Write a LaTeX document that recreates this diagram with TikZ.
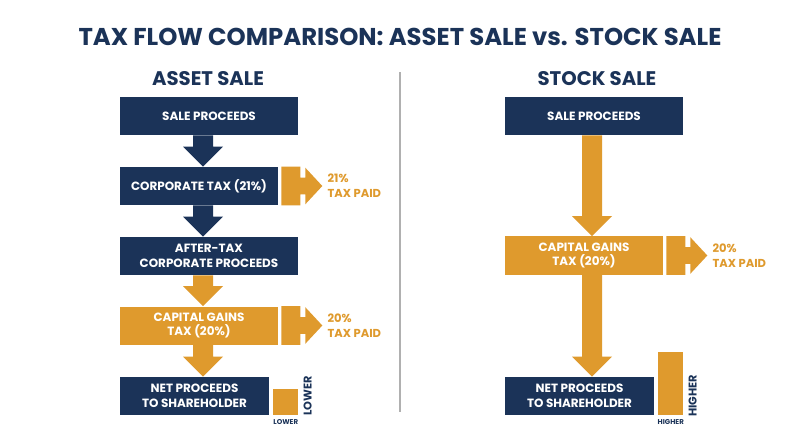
\documentclass[tikz,border=0pt]{standalone}
\usepackage{fontspec}
\setmainfont{Poppins}
\usetikzlibrary{calc}

\definecolor{navy}{HTML}{1B3358}
\definecolor{gold}{HTML}{DF9A2D}
\definecolor{divgray}{HTML}{B0B0B0}

% block arrow pointing down, from one box to the next, on a given axis
\newcommand{\flowdown}[4]{%
  \fill[#1] ($(#3.south -| #2)+(-10,0)$) -- ($(#4.north -| #2)+(-10,-20)$)
    -- ($(#4.north -| #2)+(-20,-20)$) -- (#4.north -| #2)
    -- ($(#4.north -| #2)+(20,-20)$) -- ($(#4.north -| #2)+(10,-20)$)
    -- ($(#3.south -| #2)+(10,0)$) -- cycle;}

% notched tax arrow leaving a box to the right
\newcommand{\taxout}[1]{%
  \fill[gold] ($(#1.north east)+(3,0)$) -- ($(#1.north east)+(22,0)$)
    -- ($(#1.north east)+(22,11)$) -- ($(#1.north east)+(27,11)$)
    -- ($(#1.north east)+(27,1)$) -- ($(#1.east)+(44,0)$)
    -- ($(#1.south east)+(27,-1)$) -- ($(#1.south east)+(27,-11)$)
    -- ($(#1.south east)+(22,-11)$) -- ($(#1.south east)+(22,0)$)
    -- ($(#1.south east)+(3,0)$) -- cycle;}

\begin{document}
\begin{tikzpicture}[
    x=0.025cm, y=-0.025cm,
    navybox/.style={rectangle, fill=navy, text=white, inner sep=0pt, align=center,
      minimum height=0.95cm, font=\fontsize{8.5}{10.5}\selectfont\bfseries},
    goldbox/.style={navybox, fill=gold},
    bar/.style={rectangle, fill=gold, inner sep=0pt, minimum width=0.625cm, anchor=south west},
    taxtag/.style={text=gold, align=left, anchor=west, inner sep=0pt,
      font=\fontsize{8.2}{10.5}\selectfont\bfseries},
    sidetag/.style={text=navy, rotate=90, inner sep=0pt, font=\fontsize{8}{9}\selectfont\bfseries},
    undertag/.style={text=navy, inner sep=0pt, font=\fontsize{5}{6}\selectfont\bfseries},
    header/.style={text=navy, font=\fontsize{14}{16}\selectfont\bfseries}
]
    \useasboundingbox[fill=white] (0,0) rectangle (800,447);

    % Titles
    \node[text=navy, font=\fontsize{17.3}{20}\selectfont\bfseries] (title) at (400,37)
      {TAX FLOW COMPARISON: ASSET SALE vs. STOCK SALE};
    \node[header] (assetHead) at (208,79) {ASSET SALE};
    \node[header] (stockHead) at (597,79) {STOCK SALE};

    % Divider
    \coordinate (divTop) at (400,72);
    \coordinate (divBot) at (400,412);
    \draw[divgray, line width=0.8pt] (divTop) -- (divBot);

    % Asset sale column
    \node[navybox, minimum width=4.45cm] (aSale) at (209,116) {SALE PROCEEDS};
    \node[navybox, minimum width=3.95cm] (aCorp) at (199,186) {CORPORATE TAX (21\%)};
    \node[navybox, minimum width=4.45cm] (aAfter) at (209,256) {AFTER-TAX\\CORPORATE PROCEEDS};
    \node[goldbox, minimum width=3.95cm] (aCap) at (199,325.5) {CAPITAL GAINS\\TAX (20\%)};
    \node[navybox, minimum width=3.725cm] (aNet) at (194.5,396) {NET PROCEEDS\\TO SHAREHOLDER};
    \node[bar, minimum height=0.65cm] (aBar) at (273,415) {};

    \coordinate (aAxis) at (203,0);
    \flowdown{navy}{aAxis}{aSale}{aCorp}
    \flowdown{navy}{aAxis}{aCorp}{aAfter}
    \flowdown{gold}{aAxis}{aAfter}{aCap}
    \flowdown{gold}{aAxis}{aCap}{aNet}

    \taxout{aCorp}
    \taxout{aCap}
    \node[taxtag] (aCorpTag) at ($(aCorp.east)+(49,0)$) {21\%\\TAX PAID};
    \node[taxtag] (aCapTag) at ($(aCap.east)+(49,0)$) {20\%\\TAX PAID};

    \node[sidetag] (aSide) at ($(aBar.south east)+(9,-19)$) {LOWER};
    \node[undertag] (aUnder) at ($(aBar.south)+(0,7)$) {LOWER};

    % Stock sale column
    \node[navybox, minimum width=4.45cm] (sSale) at (594,116) {SALE PROCEEDS};
    \node[goldbox, minimum width=3.95cm] (sCap) at (584,255.5) {CAPITAL GAINS\\TAX (20\%)};
    \node[navybox, minimum width=3.725cm] (sNet) at (579.5,396) {NET PROCEEDS\\TO SHAREHOLDER};
    \node[bar, minimum height=1.575cm] (sBar) at (658,415) {};

    \coordinate (sAxis) at (592,0);
    \flowdown{gold}{sAxis}{sSale}{sCap}
    \flowdown{gold}{sAxis}{sCap}{sNet}

    \taxout{sCap}
    \node[taxtag] (sCapTag) at ($(sCap.east)+(49,0)$) {20\%\\TAX PAID};

    \node[sidetag] (sSide) at ($(sBar.south east)+(9,-19)$) {HIGHER};
    \node[undertag] (sUnder) at ($(sBar.south)+(0,7)$) {HIGHER};
\end{tikzpicture}
\end{document}
